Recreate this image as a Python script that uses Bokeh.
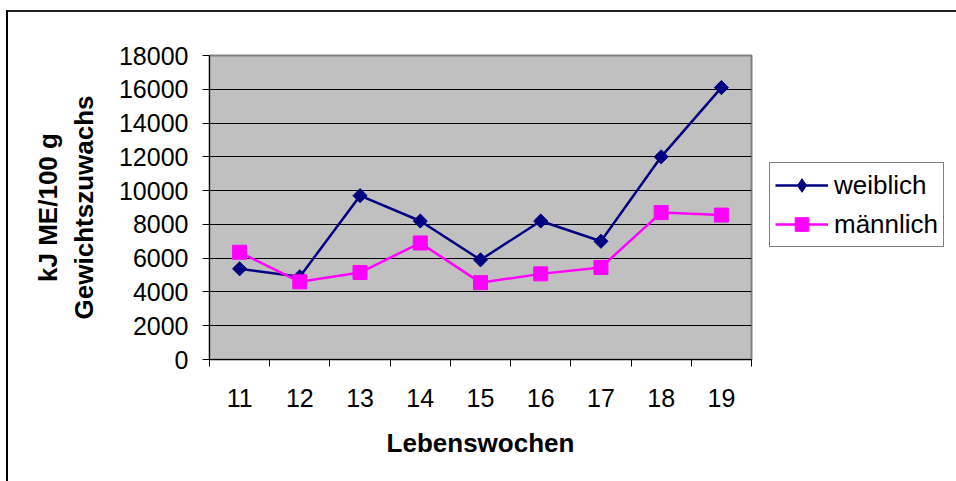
import math
from bokeh.plotting import figure
from bokeh.layouts import row
from bokeh.models import FixedTicker, Legend, LegendItem
from bokeh.embed import file_html
from bokeh.resources import INLINE

weeks = [11, 12, 13, 14, 15, 16, 17, 18, 19]
weiblich = [5370, 4900, 9700, 8200, 5900, 8200, 7000, 12000, 16100]
maennlich = [6350, 4600, 5150, 6900, 4550, 5070, 5450, 8700, 8550]
y_ticks = [0, 2000, 4000, 6000, 8000, 10000, 12000, 14000, 16000, 18000]
x_bounds = [10.5, 11.5, 12.5, 13.5, 14.5, 15.5, 16.5, 17.5, 18.5, 19.5]
series_names = ["weiblich", "männlich"]

FONT = "Liberation Sans"
NAVY = "#000080"
PINK = "#FF00FF"

p = figure(width=748, height=469, x_range=(10.5, 19.5), y_range=(0, 18000),
           output_backend="svg", toolbar_location=None,
           min_border_left=201, min_border_right=5,
           min_border_top=43, min_border_bottom=122)

p.background_fill_color = "#C0C0C0"
p.border_fill_color = "white"
p.outline_line_color = "#808080"
p.outline_line_width = 2

# x axis
p.xaxis.ticker = FixedTicker(ticks=weeks, minor_ticks=x_bounds)
p.xaxis.major_tick_out = 0
p.xaxis.major_tick_in = 0
p.xaxis.minor_tick_out = 7
p.xaxis.minor_tick_in = 0
p.xaxis.minor_tick_line_color = "black"
p.xaxis.axis_line_color = "black"
p.xaxis.major_label_text_font = FONT
p.xaxis.major_label_text_font_size = "25px"
p.xaxis.major_label_text_color = "black"
p.xaxis.major_label_standoff = 22
p.xaxis.axis_label = "Lebenswochen"
p.xaxis.axis_label_text_font = FONT
p.xaxis.axis_label_text_font_size = "26px"
p.xaxis.axis_label_text_font_style = "bold"
p.xaxis.axis_label_text_color = "black"
p.xaxis.axis_label_standoff = 18

# y axis
p.yaxis.ticker = FixedTicker(ticks=y_ticks, minor_ticks=[])
p.yaxis.major_tick_out = 7
p.yaxis.major_tick_in = 0
p.yaxis.major_tick_line_color = "black"
p.yaxis.axis_line_color = "black"
p.yaxis.major_label_text_font = FONT
p.yaxis.major_label_text_font_size = "25px"
p.yaxis.major_label_text_color = "black"
p.yaxis.major_label_standoff = 14
p.yaxis.axis_label = "kJ ME/100 g\nGewichtszuwachs"
p.yaxis.axis_label_text_font = FONT
p.yaxis.axis_label_text_font_size = "26px"
p.yaxis.axis_label_text_font_style = "bold"
p.yaxis.axis_label_text_color = "black"
p.yaxis.axis_label_standoff = 17

p.xgrid.grid_line_color = None
p.ygrid.grid_line_color = "black"
p.ygrid.grid_line_width = 1

p.line(weeks, weiblich, line_color=NAVY, line_width=2.5)
p.scatter(weeks, weiblich, marker="square", angle=math.pi / 4, size=10,
          fill_color=NAVY, line_color=NAVY)
p.line(weeks, maennlich, line_color=PINK, line_width=2.5)
p.scatter(weeks, maennlich, marker="square", size=14,
          fill_color=PINK, line_color=PINK)

# legend panel (separate small figure to the right; its own ranges keep the
# series out of view, only the legend shows)
pl = figure(width=200, height=469, x_range=(0, 1), y_range=(0, 1),
            output_backend="svg", toolbar_location=None,
            x_axis_location=None, y_axis_location=None,
            min_border_left=0, min_border_right=0,
            min_border_top=0, min_border_bottom=0)
pl.grid.visible = False
pl.outline_line_color = None
pl.background_fill_color = "white"
pl.border_fill_color = "white"

ll1 = pl.line(weeks, weiblich, line_color=NAVY, line_width=2.5)
ls1 = pl.scatter(weeks, weiblich, marker="diamond", size=17, fill_color=NAVY, line_color=NAVY)
ll2 = pl.line(weeks, maennlich, line_color=PINK, line_width=2.5)
ls2 = pl.scatter(weeks, maennlich, marker="square", size=14, fill_color=PINK, line_color=PINK)

legend = Legend(items=[LegendItem(label=series_names[0], renderers=[ll1, ls1]),
                       LegendItem(label=series_names[1], renderers=[ll2, ls2])],
                location=(13, 112))
legend.border_line_color = "black"
legend.border_line_width = 1
legend.background_fill_color = "white"
legend.background_fill_alpha = 1
legend.label_text_font = FONT
legend.label_text_font_size = "26px"
legend.label_text_color = "black"
legend.glyph_width = 53
legend.glyph_height = 34
legend.label_standoff = 6
legend.padding = 5
legend.spacing = 5
legend.margin = 0
pl.add_layout(legend)

lay = row(p, pl)
lay.margin = (10, 0, 0, 6)
lay.styles = {"border-top": "2px solid #222222", "border-left": "2px solid #000000"}

open("out.html", "w").write(file_html(lay, INLINE))
